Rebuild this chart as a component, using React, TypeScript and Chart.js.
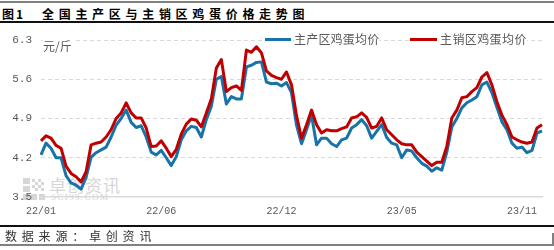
import React, { useEffect, useRef } from 'react';
import { Chart, registerables } from 'chart.js';

Chart.register(...registerables);

const seriesNames = ['主产区鸡蛋均价', '主销区鸡蛋均价'];
const tickLabels = ['22/01', '22/06', '22/12', '23/05', '23/11'];
const tickPositions = [0, 24, 48, 72, 96];
const yTicks = [3.5, 4.2, 4.9, 5.6, 6.3];

// 主产区鸡蛋均价 (元/斤)
const producerPrice = [
  4.25, 4.46, 4.37, 4.20, 4.20, 3.88, 3.75, 3.71, 3.64, 3.85,
  4.21, 4.29, 4.34, 4.39, 4.57, 4.78, 4.90, 5.05, 4.83, 4.74,
  4.77, 4.57, 4.30, 4.25, 4.33, 4.20, 4.06, 4.22, 4.52, 4.68,
  4.76, 4.74, 4.57, 4.88, 5.12, 5.60, 5.65, 5.16, 5.29, 5.25,
  5.25, 5.82, 5.85, 5.90, 5.91, 5.55, 5.52, 5.53, 5.48, 5.54,
  5.36, 4.78, 4.45, 4.70, 4.96, 4.43, 4.55, 4.55, 4.45, 4.40,
  4.52, 4.55, 4.73, 4.79, 4.88, 4.77, 4.55, 4.67, 4.79, 4.56,
  4.46, 4.43, 4.20, 4.34, 4.32, 4.20, 4.10, 4.05, 3.96, 4.02,
  3.98, 4.30, 4.75, 4.90, 5.09, 5.18, 5.23, 5.29, 5.50, 5.55,
  5.36, 5.10, 4.84, 4.70, 4.46, 4.37, 4.39, 4.29, 4.33, 4.64,
  4.68,
];

// 主销区鸡蛋均价 (元/斤)
const consumerPrice = [
  4.50, 4.59, 4.55, 4.42, 4.37, 4.05, 3.92, 3.86, 3.77, 3.95,
  4.43, 4.46, 4.48, 4.57, 4.70, 4.90, 5.00, 5.18, 5.00, 4.91,
  4.91, 4.73, 4.40, 4.41, 4.50, 4.37, 4.22, 4.35, 4.62, 4.80,
  4.89, 4.87, 4.75, 5.00, 5.25, 5.80, 5.95, 5.38, 5.45, 5.48,
  5.40, 6.12, 6.08, 6.18, 6.07, 5.75, 5.67, 5.63, 5.60, 5.73,
  5.50, 4.95, 4.55, 4.79, 5.05, 4.79, 4.64, 4.70, 4.68, 4.68,
  4.72, 4.75, 4.91, 4.93, 5.00, 4.92, 4.73, 4.76, 4.91, 4.70,
  4.61, 4.52, 4.45, 4.43, 4.43, 4.30, 4.22, 4.14, 4.06, 4.12,
  4.12, 4.40, 4.91, 5.05, 5.27, 5.29, 5.38, 5.45, 5.64, 5.72,
  5.50, 5.20, 4.96, 4.79, 4.57, 4.52, 4.48, 4.46, 4.48, 4.73,
  4.79,
];

const categories = producerPrice.map((_, i) => {
  const k = tickPositions.indexOf(i);
  return k >= 0 ? tickLabels[k] : '';
});

const BLUE = '#1773a8';
const RED = '#c00000';
const GREY_TEXT = '#595959';

export default function App() {
  const ref = useRef<HTMLCanvasElement>(null);

  useEffect(() => {
    document.body.style.margin = '0';
    const chart = new Chart(ref.current as HTMLCanvasElement, {
      type: 'line',
      data: {
        labels: categories,
        datasets: [
          {
            label: seriesNames[0],
            data: producerPrice,
            borderColor: BLUE,
            borderWidth: 3,
            pointRadius: 0,
            tension: 0,
            borderJoinStyle: 'round',
            order: 1,
          },
          {
            label: seriesNames[1],
            data: consumerPrice,
            borderColor: RED,
            borderWidth: 3,
            pointRadius: 0,
            tension: 0,
            borderJoinStyle: 'round',
            order: 0,
          },
        ],
      },
      options: {
        animation: false,
        responsive: false,
        devicePixelRatio: 1,
        layout: { padding: { left: 0, right: 12, top: 40, bottom: 33 } },
        plugins: { legend: { display: false }, tooltip: { enabled: false } },
        scales: {
          x: {
            type: 'category',
            grid: { display: false, drawTicks: false },
            border: { display: true, color: '#d9d9d9', width: 1.5 },
            ticks: {
              autoSkip: false,
              maxRotation: 0,
              minRotation: 0,
              padding: 8,
              color: GREY_TEXT,
              font: { family: '"Liberation Mono", monospace', size: 10 },
            },
            afterFit: (s: any) => {
              s.height = 20;
            },
          },
          y: {
            min: 3.5,
            max: 6.3,
            afterBuildTicks: (axis: any) => {
              axis.ticks = yTicks.map((v) => ({ value: v }));
            },
            grid: {
              drawTicks: false,
              color: (ctx: any) => (ctx.index === 0 ? 'rgba(0,0,0,0)' : '#d9d9d9'),
              lineWidth: 1,
            },
            border: { display: false, dash: [4, 3] },
            ticks: {
              padding: 9,
              color: GREY_TEXT,
              font: { family: '"Liberation Mono", monospace', size: 11 },
              callback: (v: any) => Number(v).toFixed(1),
            },
            afterFit: (s: any) => {
              s.width = 41;
            },
          },
        },
      },
    });
    return () => chart.destroy();
  }, []);

  const logoBlock = (x: number, y: number, w: number, h: number, key: string) => (
    <div key={key} style={{ position: 'absolute', left: x, top: y, width: w, height: h, background: '#d6d6d6' }} />
  );

  return (
    <div
      style={{
        position: 'relative',
        width: 554,
        height: 250,
        background: '#fff',
        overflow: 'hidden',
        fontFamily: '"Noto Sans CJK SC", sans-serif',
      }}
    >
      {/* frame lines */}
      <div style={{ position: 'absolute', left: 0, top: 1, width: 554, height: 2, background: '#808080' }} />
      <div style={{ position: 'absolute', left: 0, top: 21, width: 554, height: 2, background: '#111' }} />
      <div style={{ position: 'absolute', left: 0, top: 225, width: 554, height: 2, background: '#111' }} />
      <div style={{ position: 'absolute', left: 0, top: 244, width: 554, height: 2, background: '#808080' }} />
      <div style={{ position: 'absolute', left: 552, top: 233, width: 2, height: 11, background: '#808080' }} />

      {/* title */}
      <div
        style={{
          position: 'absolute',
          left: 2,
          top: 6,
          fontSize: 12,
          lineHeight: '16px',
          fontWeight: 700,
          color: '#000',
          letterSpacing: 2,
          whiteSpace: 'nowrap',
        }}
      >
        图1
      </div>
      <div
        style={{
          position: 'absolute',
          left: 42,
          top: 6,
          fontSize: 12,
          lineHeight: '16px',
          fontWeight: 700,
          color: '#000',
          letterSpacing: 4.7,
          whiteSpace: 'nowrap',
        }}
      >
        全国主产区与主销区鸡蛋价格走势图
      </div>

      {/* watermark */}
      {logoBlock(23, 178, 7, 6, 'a')}
      {logoBlock(23, 186, 7, 6, 'b')}
      {logoBlock(23, 194, 7, 6, 'c')}
      {logoBlock(31, 194, 6, 6, 'd')}
      {logoBlock(39, 194, 6, 6, 'e')}
      {logoBlock(32, 179, 3, 3, 'f')}
      {logoBlock(38, 179, 3, 3, 'g')}
      {logoBlock(35, 182, 3, 3, 'h')}
      {logoBlock(41, 182, 3, 3, 'i')}
      {logoBlock(32, 185, 3, 3, 'j')}
      {logoBlock(38, 185, 3, 3, 'k')}
      {logoBlock(35, 188, 3, 3, 'l')}
      {logoBlock(41, 188, 3, 3, 'm')}
      <div
        style={{
          position: 'absolute',
          left: 49,
          top: 175,
          fontSize: 17,
          lineHeight: '20px',
          color: '#d6d6d6',
          fontWeight: 400,
          whiteSpace: 'nowrap',
          letterSpacing: 1,
        }}
      >
        卓创资讯
      </div>
      <div
        style={{
          position: 'absolute',
          left: 51,
          top: 192,
          fontSize: 9,
          lineHeight: '10px',
          color: '#d0d0d0',
          fontFamily: '"Liberation Serif", serif',
          whiteSpace: 'nowrap',
          letterSpacing: 1.4,
        }}
      >
        SCI99.COM
      </div>

      <canvas ref={ref} width={554} height={250} style={{ position: 'absolute', left: 0, top: 0, width: 554, height: 250 }} />

      {/* unit */}
      <div
        style={{
          position: 'absolute',
          left: 43,
          top: 38,
          fontSize: 12,
          lineHeight: '15px',
          color: GREY_TEXT,
          background: '#fff',
          paddingRight: 2,
          whiteSpace: 'nowrap',
        }}
      >
        元/斤
      </div>

      {/* legend */}
      <div style={{ position: 'absolute', left: 265, top: 38, width: 26, height: 3, background: BLUE }} />
      <div
        style={{
          position: 'absolute',
          left: 294,
          top: 31,
          fontSize: 12,
          lineHeight: '16px',
          color: GREY_TEXT,
          background: '#fff',
          whiteSpace: 'nowrap',
          letterSpacing: 0.2,
        }}
      >
        {seriesNames[0]}
      </div>
      <div style={{ position: 'absolute', left: 410, top: 38, width: 27, height: 3, background: RED }} />
      <div
        style={{
          position: 'absolute',
          left: 440,
          top: 31,
          fontSize: 12,
          lineHeight: '16px',
          color: GREY_TEXT,
          background: '#fff',
          whiteSpace: 'nowrap',
          letterSpacing: 0.4,
        }}
      >
        {seriesNames[1]}
      </div>

      {/* source */}
      <div
        style={{
          position: 'absolute',
          left: 5,
          top: 228,
          fontSize: 12,
          lineHeight: '16px',
          color: '#333',
          letterSpacing: 4.8,
          whiteSpace: 'nowrap',
        }}
      >
        数据来源：卓创资讯
      </div>
    </div>
  );
}
